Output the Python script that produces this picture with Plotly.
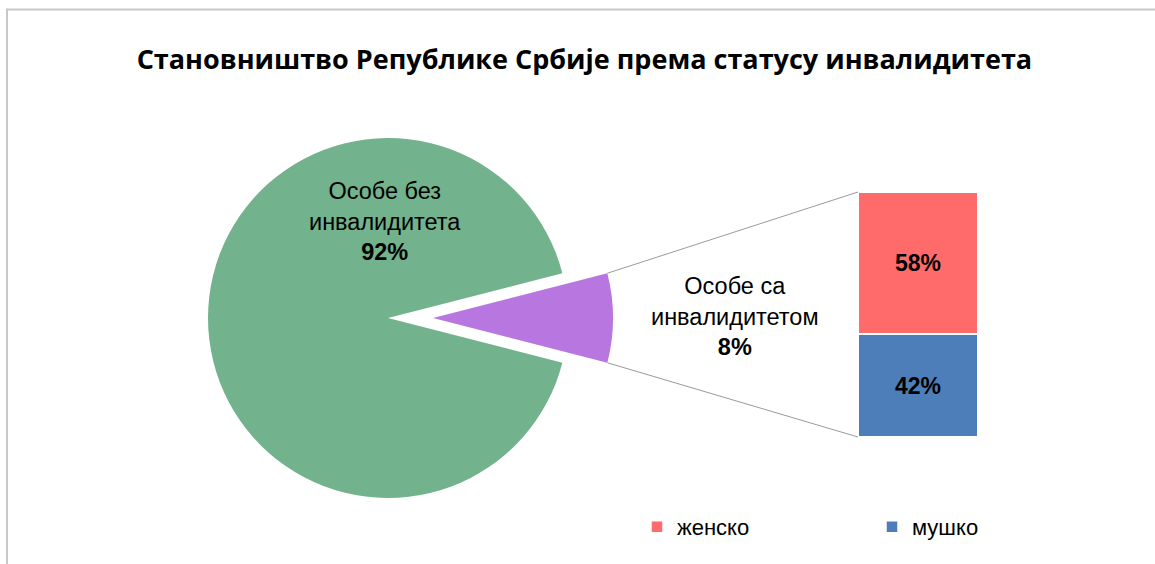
import math
import plotly.graph_objects as go

# ---- data ----
pie_labels = ["Особе са инвалидитетом", "Особе без инвалидитета"]
pie_values = [8, 92]
bar_labels = ["женско", "мушко"]
bar_values = [58, 42]
title_text = "Становништво Републике Србије према статусу инвалидитета"

# ---- layout constants (pixels) ----
W, H = 1155, 564
pie_cx, pie_cy, pie_r = 388, 318, 180
pull = 0.25
bar_l, bar_r, bar_t, bar_b = 858, 978, 192, 437

def px(x):
    return x / W

def py(y):
    return 1 - y / H

green = "#72B28C"
purple = "#B876E0"
red = "#FF6B6B"
blue = "#4D7EBA"

box = 2 * pie_r * (1 + pull)
share = pie_values[0] / sum(pie_values)
rotation = 90 - 360 * share / 2

fig = go.Figure()
fig.add_trace(go.Pie(
    labels=pie_labels, values=pie_values, sort=False, direction="clockwise",
    rotation=rotation, pull=[pull, 0], textinfo="none", hoverinfo="skip",
    marker=dict(colors=[purple, green], line=dict(width=0)),
    domain=dict(x=[px(pie_cx - box / 2), px(pie_cx + box / 2)],
                y=[py(pie_cy + box / 2), py(pie_cy - box / 2)]),
    showlegend=False,
))

bar_font = dict(family="Liberation Sans", size=23, color="black")
# stacked bar: мушко at bottom, женско on top
fig.add_trace(go.Bar(
    x=[0], y=[bar_values[1]], name=bar_labels[1], marker=dict(color=blue, line=dict(color="white", width=1.5)),
    width=1, text=[f"<b>{bar_values[1]}%</b>"], textposition="inside", insidetextanchor="middle",
    textfont=bar_font, hoverinfo="skip", legendrank=2,
))
fig.add_trace(go.Bar(
    x=[0], y=[bar_values[0]], name=bar_labels[0], marker=dict(color=red, line=dict(color="white", width=1.5)),
    width=1, text=[f"<b>{bar_values[0]}%</b>"], textposition="inside", insidetextanchor="middle",
    textfont=bar_font, hoverinfo="skip", legendrank=1,
))

# connector lines from exploded slice to bar
half = math.pi * share
sx = pie_cx + pull * pie_r + pie_r * math.cos(half)
sy_top = pie_cy - pie_r * math.sin(half)
sy_bot = pie_cy + pie_r * math.sin(half)
shapes = [
    dict(type="line", xref="paper", yref="paper", x0=px(sx), y0=py(sy_top), x1=px(bar_l), y1=py(bar_t),
         line=dict(color="#9a9a9a", width=1)),
    dict(type="line", xref="paper", yref="paper", x0=px(sx), y0=py(sy_bot), x1=px(bar_l), y1=py(bar_b),
         line=dict(color="#9a9a9a", width=1)),
    # chart border
    dict(type="line", xref="paper", yref="paper", x0=px(6), y0=py(9.5), x1=1, y1=py(9.5),
         line=dict(color="#c8c8c8", width=2)),
    dict(type="line", xref="paper", yref="paper", x0=px(7), y0=py(9), x1=px(7), y1=0,
         line=dict(color="#c8c8c8", width=2)),
]

lab_font = dict(family="Liberation Sans", size=23.5, color="black")
annotations = [
    dict(x=px(385), y=py(222), xref="paper", yref="paper", showarrow=False,
         text=f"Особе без<br>инвалидитета<br><b>{pie_values[1]}%</b>", font=lab_font, align="center"),
    dict(x=px(735), y=py(316), xref="paper", yref="paper", showarrow=False,
         text=f"Особе са<br>инвалидитетом<br><b>{pie_values[0]}%</b>", font=lab_font, align="center"),
]

fig.update_layout(
    width=W, height=H, margin=dict(l=0, r=0, t=0, b=0),
    paper_bgcolor="white", plot_bgcolor="white",
    title=dict(text=f"<b>{title_text}</b>", x=0.506, xanchor="center", y=py(60), yanchor="middle",
               font=dict(family="Open Sans", size=27, color="black")),
    barmode="stack",
    xaxis=dict(domain=[px(bar_l), px(bar_r)], range=[-0.5, 0.5], visible=False, fixedrange=True),
    yaxis=dict(domain=[py(bar_b), py(bar_t)], range=[0, 100], visible=False, fixedrange=True),
    legend=dict(orientation="h", x=px(637), xanchor="left", y=py(527), yanchor="middle",
                font=dict(family="Liberation Sans", size=22, color="black"),
                entrywidth=190, entrywidthmode="pixels", traceorder="normal"),
    shapes=shapes, annotations=annotations,
)

fig.write_html("out.html", config={"displayModeBar": False},
               post_script="document.body.style.margin='0px';")
